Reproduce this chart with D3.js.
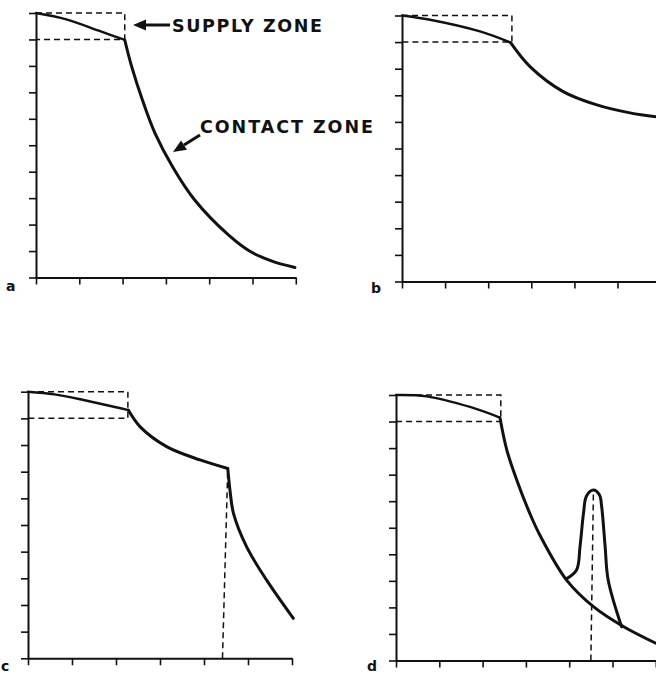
<!DOCTYPE html>
<html>
<head>
<meta charset="utf-8">
<script src="https://cdn.jsdelivr.net/npm/d3@7"></script>
<style>
  body { margin: 0; background: #fff; }
  svg { display: block; }
</style>
</head>
<body>
<svg id="chart" width="656" height="676"></svg>
<script>
// tick positions (no labels in the figure)
var xTicks = [0, 1, 2, 3, 4, 5, 6];
var yTicks = [0, 1, 2, 3, 4, 5, 6, 7, 8, 9, 10];

// panel a
var supplyA = [[0, 10], [0.7, 9.76], [1.45, 9.33], [2.05, 8.98]];
var contactA = [[2.05, 8.98], [2.21, 7.97], [2.46, 6.7], [2.75, 5.45], [3.16, 4.17], [3.67, 2.92], [4.45, 1.6], [4.95, 0.98], [5.45, 0.62], [5.98, 0.38]];
var boxA = [2.05, 9];

// panel b
var supplyB = [[0, 10], [0.65, 9.84], [1.81, 9.4], [2.52, 8.98]];
var contactB = [[2.52, 8.98], [2.97, 8.08], [3.74, 7.14], [4.52, 6.64], [5.29, 6.34], [6.1, 6.15]];
var boxB = [2.55, 9];

// panel c
var supplyC = [[0, 10], [0.6, 9.9], [1.26, 9.69], [2.28, 9.31]];
var contactC = [[2.28, 9.31], [2.55, 8.68], [3.15, 7.94], [3.91, 7.44], [4.54, 7.12]];
var secondC = [[4.54, 7.12], [4.59, 6.31], [4.67, 5.44], [4.97, 4.18], [5.42, 2.94], [6.03, 1.5]];
var dropC = [[4.42, 0], [4.54, 7.1]];
var boxC = [2.27, 9];

// panel d
var supplyD = [[0, 10], [0.71, 9.95], [1.71, 9.55], [2.4, 9.15]];
var contactD = [[2.4, 9.15], [2.56, 7.92], [2.79, 6.79], [3.09, 5.54], [3.33, 4.7], [3.94, 3.03], [4.56, 2.03], [5.25, 1.28], [6.0, 0.65]];
var peakD = [[3.93, 3.07], [4.17, 3.41], [4.25, 4.29], [4.33, 5.54], [4.4, 6.2], [4.56, 6.42], [4.7, 6.23], [4.75, 5.79], [4.83, 4.29], [4.9, 3.03], [5.21, 1.27]];
var dropD = [[4.5, 0], [4.56, 6.42]];
var boxD = [2.42, 9];

var svg = d3.select('#chart');
var FONT = 'DejaVu Sans, Liberation Sans, Arial, sans-serif';

function drawPanel(p) {
    var g = svg.append('g');
    var x = d3.scaleLinear().domain([0, 6]).range([p.left, p.left + 6 * p.unit]);
    var y = d3.scaleLinear().domain([0, 10]).range([p.bottom, p.top]);

    var ax = g.append('g')
        .attr('transform', 'translate(0,' + p.bottom + ')')
        .call(d3.axisBottom(x).tickValues(xTicks).tickSize(7).tickSizeOuter(0).tickFormat(''));
    var ay = g.append('g')
        .attr('transform', 'translate(' + p.left + ',0)')
        .call(d3.axisLeft(y).tickValues(yTicks).tickSize(7).tickSizeOuter(0).tickFormat(''));
    [ax, ay].forEach(function(a) {
        a.select('.domain').attr('stroke', '#111').attr('stroke-width', 2);
        a.selectAll('.tick line').attr('stroke', '#111').attr('stroke-width', 1.6);
    });

    // supply zone box (dashed)
    g.append('path')
        .attr('d', 'M' + x(0) + ',' + y(10) + 'H' + x(p.box[0]) + 'V' + y(p.box[1]) + 'H' + x(0))
        .style('fill', 'none')
        .style('stroke', '#111')
        .style('stroke-width', 1.5)
        .style('stroke-dasharray', '6,4');

    var line = d3.line().x(function(d) { return x(d[0]); }).y(function(d) { return y(d[1]); })
        .curve(d3.curveCatmullRom.alpha(0.5));

    (p.dashed || []).forEach(function(s) {
        g.append('path')
            .attr('d', d3.line().x(function(d) { return x(d[0]); }).y(function(d) { return y(d[1]); })(s))
            .style('fill', 'none')
            .style('stroke', '#111')
            .style('stroke-width', 1.5)
            .style('stroke-dasharray', '6,4');
    });

    p.curves.forEach(function(s, i) {
        g.append('path')
            .attr('d', line(s))
            .style('fill', 'none')
            .style('stroke', '#111')
            .style('stroke-width', i === 0 ? 2.4 : 3)
            .style('stroke-linejoin', 'round')
            .style('stroke-linecap', 'round');
    });

    svg.append('text')
        .attr('x', p.labelX)
        .attr('y', p.labelY)
        .style('font-family', FONT)
        .style('font-weight', 'bold')
        .style('font-size', '14px')
        .style('fill', '#111')
        .text(p.label);
}

drawPanel({left: 36, unit: 43.3, top: 13, bottom: 277.5, box: boxA,
    curves: [supplyA, contactA], label: 'a', labelX: 6, labelY: 291});
drawPanel({left: 402, unit: 43.1, top: 15.5, bottom: 281.5, box: boxB,
    curves: [supplyB, contactB], label: 'b', labelX: 371, labelY: 293});
drawPanel({left: 28, unit: 44, top: 391.7, bottom: 658.3, box: boxC,
    curves: [supplyC, contactC, secondC], dashed: [dropC], label: 'c', labelX: 1, labelY: 671});
drawPanel({left: 396, unit: 43.3, top: 395, bottom: 660.5, box: boxD,
    curves: [supplyD, contactD, peakD], dashed: [dropD], label: 'd', labelX: 367, labelY: 671});

// annotations
function arrow(x1, y1, x2, y2) {
    var ang = Math.atan2(y2 - y1, x2 - x1);
    var len = 13, half = 5.5;
    var bx = x2 - len * Math.cos(ang), by = y2 - len * Math.sin(ang);
    svg.append('line')
        .attr('x1', x1).attr('y1', y1).attr('x2', bx).attr('y2', by)
        .style('stroke', '#111').style('stroke-width', 3);
    svg.append('path')
        .attr('d', 'M' + x2 + ',' + y2 +
            'L' + (bx + half * Math.sin(ang)) + ',' + (by - half * Math.cos(ang)) +
            'L' + (bx - half * Math.sin(ang)) + ',' + (by + half * Math.cos(ang)) + 'Z')
        .style('fill', '#111');
}

arrow(170, 25, 133, 25);
arrow(200, 135, 173, 152);

svg.append('text')
    .attr('x', 172).attr('y', 31.7)
    .attr('textLength', 150).attr('lengthAdjust', 'spacing')
    .style('font-family', FONT)
    .style('font-weight', 'bold').style('font-size', '17.5px').style('fill', '#111')
    .text('SUPPLY ZONE');
svg.append('text')
    .attr('x', 200).attr('y', 133.3)
    .attr('textLength', 173).attr('lengthAdjust', 'spacing')
    .style('font-family', FONT)
    .style('font-weight', 'bold').style('font-size', '17.5px').style('fill', '#111')
    .text('CONTACT ZONE');
</script>
</body>
</html>
